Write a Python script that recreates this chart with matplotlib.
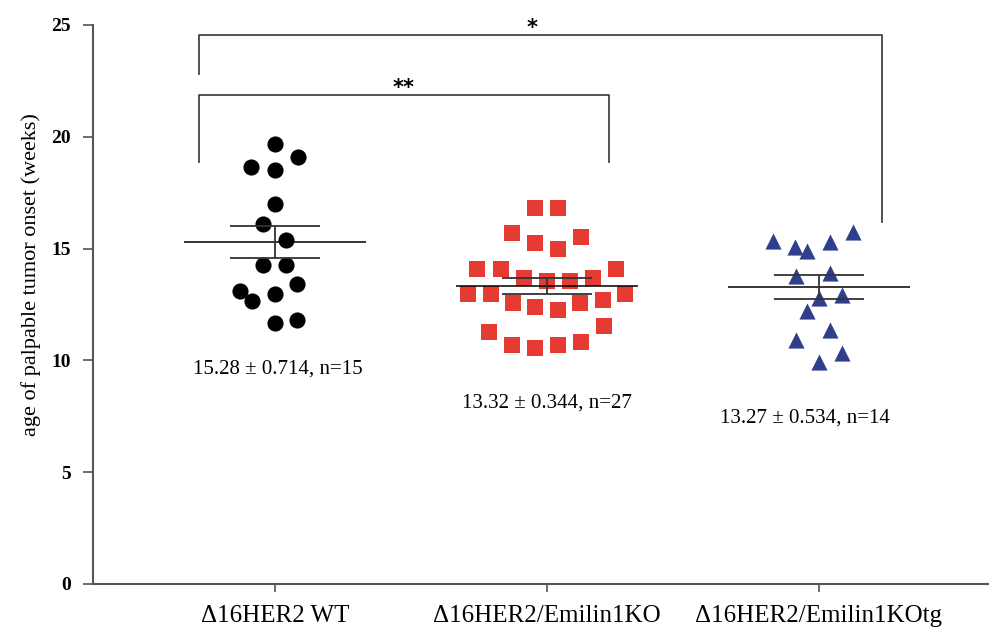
import numpy as np
import matplotlib
matplotlib.use("Agg")
import matplotlib.pyplot as plt

plt.rcParams['font.family'] = ['Liberation Serif', 'DejaVu Serif']

groups = ["\u039416HER2 WT", "\u039416HER2/Emilin1KO", "\u039416HER2/Emilin1KOtg"]

# onset ages (weeks), with the horizontal spread of the dot plot
wt_y = [19.68, 19.11, 18.66, 18.52, 16.99, 16.10, 15.38, 14.27, 14.27,
        13.40, 13.12, 12.67, 12.97, 11.69, 11.81]
wt_jit = [0, 0.085, -0.088, 0, 0, -0.043, 0.04, -0.045, 0.04,
          0.082, -0.129, -0.086, 0, 0, 0.082]

ko_y = [16.83, 16.83, 15.68, 15.53, 15.27, 14.97, 14.10, 14.10, 14.10,
        13.67, 13.55, 13.55, 13.67, 12.97, 12.97, 12.97, 12.55, 12.40,
        12.25, 12.55, 12.70, 11.27, 11.54, 10.68, 10.54, 10.68, 10.82]
ko_jit = [-0.043, 0.042, -0.129, 0.126, -0.043, 0.042, -0.256, -0.170, 0.254,
          -0.086, 0, 0.083, 0.168, -0.290, -0.207, 0.287, -0.125, -0.043,
          0.040, 0.122, 0.205, -0.213, 0.211, -0.129, -0.043, 0.042, 0.126]

tg_y = [15.35, 15.76, 15.06, 14.91, 15.31, 13.79, 13.92, 12.78, 12.91,
        12.22, 11.36, 10.91, 10.34, 9.94]
tg_jit = [-0.170, 0.126, -0.087, -0.043, 0.042, -0.086, 0.042, 0, 0.085,
          -0.043, 0.042, -0.086, 0.085, 0]

means = [15.28, 13.32, 13.27]
sems = [0.714, 0.344, 0.534]
ns = [15, 27, 14]

fig = plt.figure(figsize=(9.89, 6.31), dpi=100)
ax = fig.add_axes([0.094, 0.0745, 0.906, 0.886])

ax.scatter(1 + np.array(wt_jit), wt_y, s=135, marker="o", color="black", linewidths=0, zorder=3)
ax.scatter(2 + np.array(ko_jit), ko_y, s=135, marker="s", color="#e53b33", linewidths=0, zorder=3)
ax.scatter(3 + np.array(tg_jit), tg_y, s=135, marker="^", color="#2f3f8c", linewidths=0, zorder=3)

# mean and SEM bars
for i, (m, e) in enumerate(zip(means, sems)):
    x = i + 1
    ax.hlines(m, x - 0.333, x + 0.333, color="black", lw=1.1, zorder=4)
    ax.hlines([m - e, m + e], x - 0.165, x + 0.165, color="#333333", lw=1.3, zorder=4)
    ax.vlines(x, m - e, m + e, color="#333333", lw=1.3, zorder=4)

ann_y = [9.6, 8.1, 7.42]
ann_x = [1.01, 2.0, 2.95]
for i in range(3):
    ax.text(ann_x[i], ann_y[i], "%.2f \u00b1 %.3f, n=%d" % (means[i], sems[i], ns[i]),
            ha="center", va="center", fontsize=15)

# significance brackets
bc = "#444444"
ax.plot([0.72, 0.72, 3.23, 3.23], [22.8, 24.55, 24.55, 16.2], color=bc, lw=1.3, clip_on=False)
ax.plot([0.72, 0.72, 2.228, 2.228], [18.87, 21.87, 21.87, 18.87], color=bc, lw=1.3, clip_on=False)
ax.text(1.945, 24.43, "*", ha="center", va="bottom", fontsize=15, fontweight="bold",
        family="DejaVu Sans", clip_on=False)
ax.text(1.474, 21.73, "**", ha="center", va="bottom", fontsize=15, fontweight="bold",
        family="DejaVu Sans")

ax.set_xlim(0.331, 3.625)
ax.set_ylim(0, 25)
ax.set_xticks([1, 2, 3])
ax.set_xticklabels(groups, fontsize=18)
ax.set_yticks([0, 5, 10, 15, 20, 25])
ax.set_yticklabels(["0", "5", "10", "15", "20", "25"], fontsize=14, fontweight="bold")
ax.tick_params(axis="x", length=6, width=1.2, color="#555555", pad=9)
ax.tick_params(axis="y", length=7, width=1.2, color="#555555", pad=9)
ax.set_ylabel("age of palpable tumor onset (weeks)", fontsize=16)
ax.yaxis.set_label_coords(-0.058, 0.553)

for side in ["top", "right"]:
    ax.spines[side].set_visible(False)
for side in ["left", "bottom"]:
    ax.spines[side].set_color("#555555")
    ax.spines[side].set_linewidth(1.5)

fig.savefig("out.png", dpi=100)
